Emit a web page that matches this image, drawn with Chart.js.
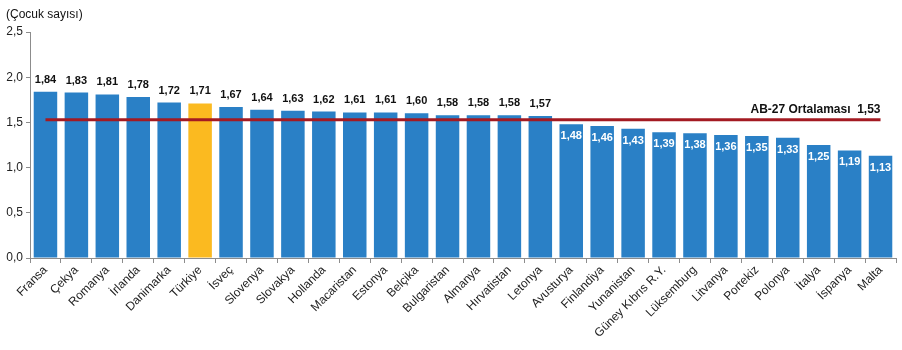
<!DOCTYPE html>
<html>
<head>
<meta charset="utf-8">
<script src="https://cdn.jsdelivr.net/npm/chart.js@4.4.1/dist/chart.umd.min.js"></script>
<style>
  html, body { margin: 0; padding: 0; background: #fff; }
  #wrap { width: 902px; height: 350px; }
</style>
</head>
<body>
<div id="wrap"><canvas id="fertility-chart"></canvas></div>
<script>
// Countries and total fertility rate values
const countries = ['Fransa', 'Çekya', 'Romanya', 'İrlanda', 'Danimarka', 'Türkiye', 'İsveç', 'Slovenya',
    'Slovakya', 'Hollanda', 'Macaristan', 'Estonya', 'Belçika', 'Bulgaristan', 'Almanya', 'Hırvatistan',
    'Letonya', 'Avusturya', 'Finlandiya', 'Yunanistan', 'Güney Kıbrıs R.Y.', 'Lüksemburg', 'Litvanya',
    'Portekiz', 'Polonya', 'İtalya', 'İspanya', 'Malta'];
const fertility = [1.84, 1.83, 1.81, 1.78, 1.72, 1.71, 1.67, 1.64, 1.63, 1.62, 1.61, 1.61, 1.60, 1.58,
    1.58, 1.58, 1.57, 1.48, 1.46, 1.43, 1.39, 1.38, 1.36, 1.35, 1.33, 1.25, 1.19, 1.13];
const euAverage = 1.53;
const euLabel = 'AB-27 Ortalaması  1,53';
const yTicks = [0, 0.5, 1.0, 1.5, 2.0, 2.5];
const highlight = 'Türkiye';

const fmt = v => v.toFixed(2).replace('.', ',');

// Draws value labels on bars and the average label
const labelPlugin = {
    id: 'labels',
    afterDatasetsDraw(chart) {
        const ctx = chart.ctx;
        const meta = chart.getDatasetMeta(1);
        const y = chart.scales.y;
        ctx.save();
        ctx.font = 'bold 11px "Liberation Sans", Arial, sans-serif';
        ctx.textAlign = 'center';
        ctx.textBaseline = 'middle';
        meta.data.forEach((bar, i) => {
            const v = fertility[i];
            if (v > euAverage) {
                ctx.fillStyle = '#111';
                ctx.fillText(fmt(v), bar.x, bar.y - 12);
            } else {
                ctx.fillStyle = '#fff';
                ctx.fillText(fmt(v), bar.x, bar.y + 12);
            }
        });
        // average label
        const lineMeta = chart.getDatasetMeta(0);
        const last = lineMeta.data[lineMeta.data.length - 1];
        ctx.font = 'bold 12px "Liberation Sans", Arial, sans-serif';
        ctx.textAlign = 'right';
        ctx.fillStyle = '#111';
        ctx.fillText(euLabel, last.x, y.getPixelForValue(euAverage) - 10);
        // unit label
        ctx.font = '12px "Liberation Sans", Arial, sans-serif';
        ctx.textAlign = 'left';
        ctx.fillText('(Çocuk sayısı)', 6, 15);
        ctx.restore();
    }
};

const ctx = document.getElementById('fertility-chart').getContext('2d');
new Chart(ctx, {
    data: {
        labels: countries,
        datasets: [{
            type: 'line',
            data: countries.map(() => euAverage),
            borderColor: '#a31a22',
            borderWidth: 3,
            pointRadius: 0,
            order: 1
        }, {
            type: 'bar',
            data: fertility,
            backgroundColor: countries.map(c => c === highlight ? '#fbba20' : '#2a80c6'),
            barPercentage: 0.76,
            categoryPercentage: 1,
            order: 2
        }]
    },
    options: {
        responsive: true,
        maintainAspectRatio: false,
        animation: false,
        layout: { padding: { top: 32, right: 6, left: 4, bottom: 0 } },
        plugins: {
            legend: { display: false },
            tooltip: { enabled: false }
        },
        scales: {
            x: {
                grid: { drawOnChartArea: false, tickLength: 5, color: '#8c8c8c' },
                border: { color: '#8c8c8c' },
                ticks: {
                    autoSkip: false,
                    maxRotation: 45,
                    minRotation: 45,
                    padding: 0,
                    color: '#222',
                    font: { family: '"Liberation Sans", Arial, sans-serif', size: 12 }
                },
                afterFit(scale) { scale.height = 92; }
            },
            y: {
                min: 0,
                max: 2.5,
                afterBuildTicks(scale) { scale.ticks = yTicks.map(v => ({ value: v })); },
                grid: { drawOnChartArea: false, tickLength: 4, color: '#8c8c8c' },
                border: { color: '#8c8c8c' },
                ticks: {
                    padding: 3,
                    color: '#222',
                    font: { family: '"Liberation Sans", Arial, sans-serif', size: 12 },
                    callback: v => v.toFixed(1).replace('.', ',')
                },
                afterFit(scale) { scale.width = 26; }
            }
        }
    },
    plugins: [labelPlugin]
});
</script>
</body>
</html>
